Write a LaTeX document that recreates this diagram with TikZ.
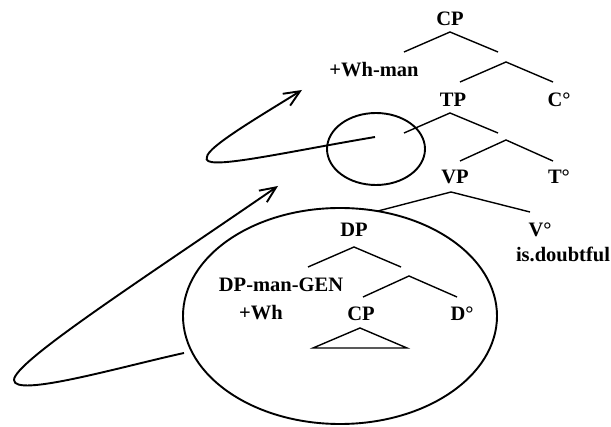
\documentclass[tikz,border=0pt]{standalone}
\usepackage{fontspec}
\setmainfont{Liberation Serif}
\usetikzlibrary{arrows.meta}
\begin{document}
\begin{tikzpicture}[x=1pt,y=-1pt,
  lbl/.style={font=\fontsize{20.5}{24}\selectfont\bfseries, inner sep=0pt, anchor=base},
  branch/.style={line width=1.4pt},
  ring/.style={line width=1.9pt},
  mover/.style={line width=1.9pt, -{Straight Barb[length=16pt,width=14pt,line width=1.9pt]}}]
\useasboundingbox (0,0) rectangle (611,427);
% labels
\node[lbl] (cp) at (450,26) {CP};
\node[lbl] (whman) at (374,77) {+Wh-man};
\node[lbl] (tp) at (453,107) {TP};
\node[lbl] (c0) at (559,107) {C°};
\node[lbl] (vp) at (455,184) {VP};
\node[lbl] (t0) at (559,184) {T°};
\node[lbl] (dp) at (354,237) {DP};
\node[lbl] (v0) at (540,237) {V°};
\node[lbl] (doubt) at (563,262) {is.doubtful};
\node[lbl] (dpgen) at (281,292) {DP-man-GEN};
\node[lbl] (wh) at (261,320) {+Wh};
\node[lbl] (cp2) at (361,321) {CP};
\node[lbl] (d0) at (462,321) {D°};
% branch points
\coordinate (a1) at (450,32); \coordinate (a1l) at (404,52); \coordinate (a1r) at (498,52);
\coordinate (a2) at (506,62); \coordinate (a2l) at (460,82); \coordinate (a2r) at (553,82);
\coordinate (a3) at (450,113); \coordinate (a3l) at (404,133); \coordinate (a3r) at (498,133);
\coordinate (a4) at (506,140); \coordinate (a4l) at (460,161); \coordinate (a4r) at (553,161);
\coordinate (a5) at (451,192); \coordinate (a5l) at (378,211); \coordinate (a5r) at (530,212);
\coordinate (a6) at (354,247); \coordinate (a6l) at (308,267); \coordinate (a6r) at (401,267);
\coordinate (a7) at (409,276); \coordinate (a7l) at (363,297); \coordinate (a7r) at (457,297);
\coordinate (tt) at (360,328); \coordinate (tl) at (313,348); \coordinate (tr) at (407,348);
\foreach \b in {a1,a2,a3,a4,a5,a6,a7}{
  \draw[branch] (\b l) -- (\b) -- (\b r);
}
\draw[branch] (tt) -- (tl) -- (tr) -- cycle;
% circles
\coordinate (smallc) at (376,149);
\coordinate (bigc) at (340,316);
\draw[ring] (smallc) ellipse [x radius=49, y radius=36];
\draw[ring] (bigc) ellipse [x radius=157, y radius=108];
% movement arrows
\coordinate (s1) at (375,137); \coordinate (p1) at (207,157); \coordinate (e1) at (302,90);
\draw[mover] (s1) .. controls (280,153) and (200,172) .. (p1)
  .. controls (207,147) and (262,115) .. (e1);
\coordinate (s2) at (184,353); \coordinate (p2) at (14,380); \coordinate (e2) at (278,186);
\draw[mover] (s2) .. controls (120,367) and (14,398) .. (p2)
  .. controls (14,362) and (140,281) .. (e2);
\end{tikzpicture}
\end{document}
